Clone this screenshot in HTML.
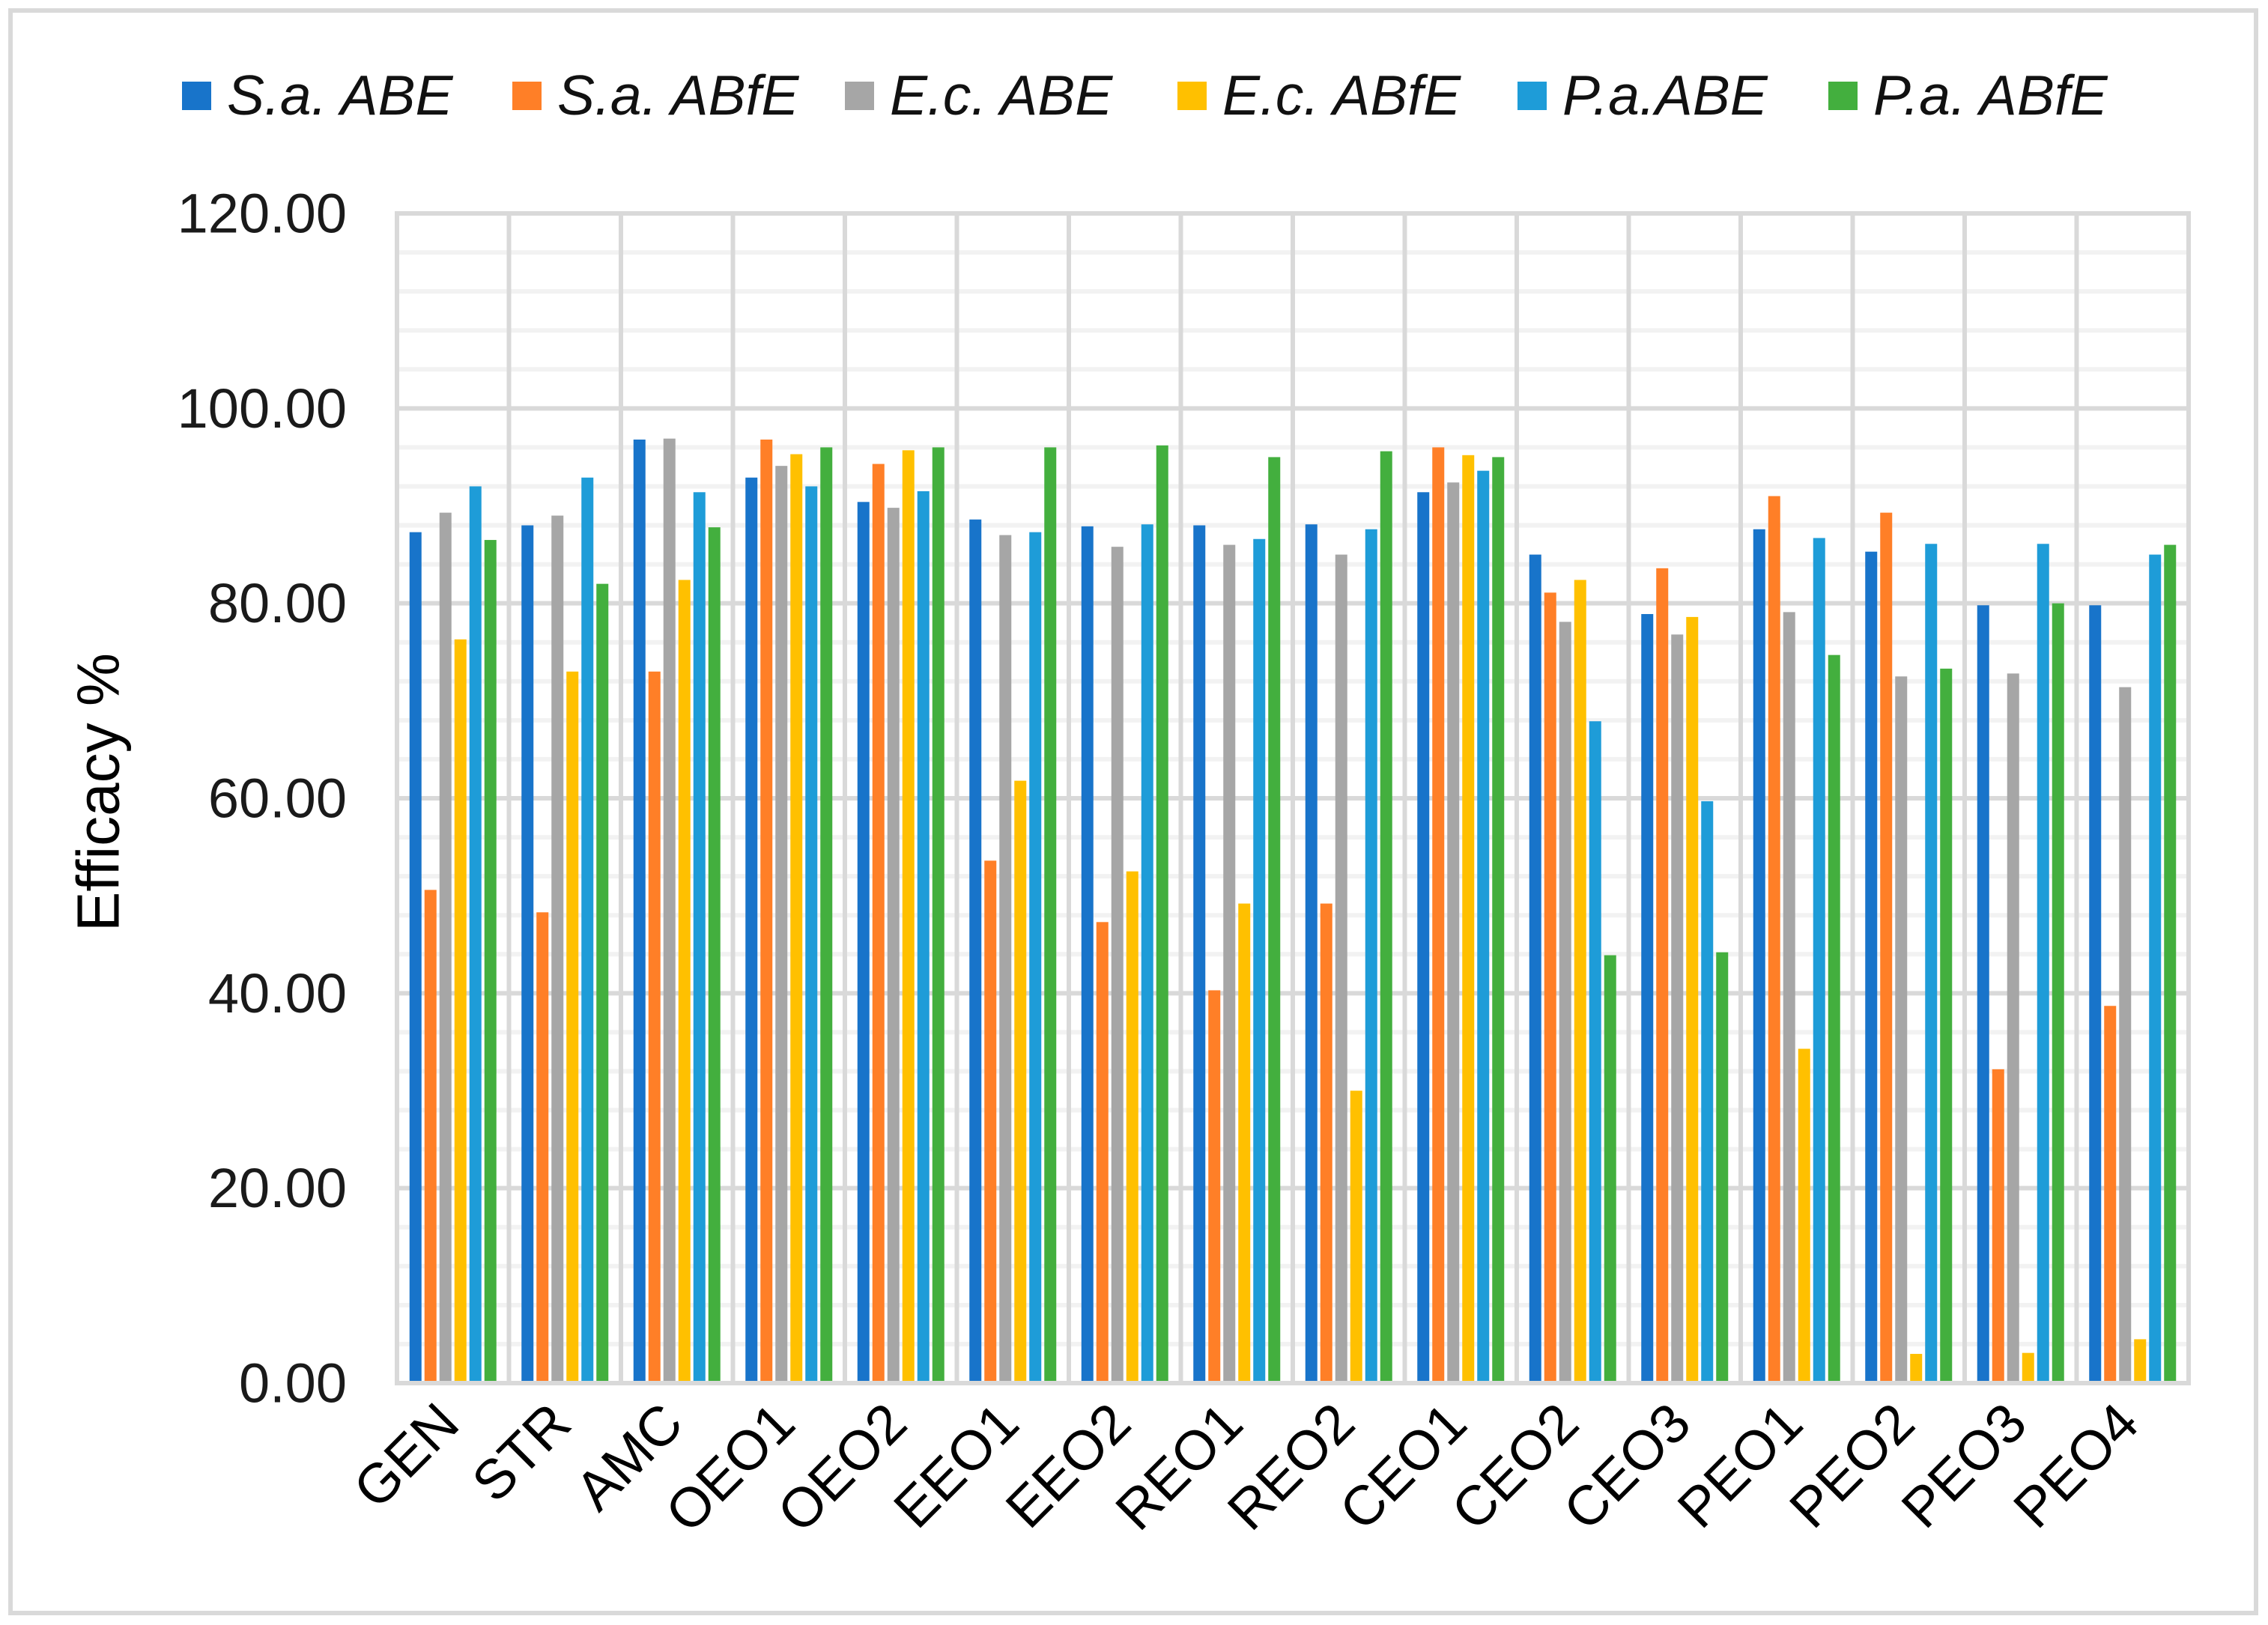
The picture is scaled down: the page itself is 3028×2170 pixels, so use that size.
<!DOCTYPE html>
<html><head><meta charset="utf-8"><style>
html,body{margin:0;padding:0;background:#fff;}
svg{display:block;font-family:"Liberation Sans",Arial,sans-serif;}
</style></head><body>
<svg id="chart" width="3028" height="2170" viewBox="0 0 3028 2170" xmlns="http://www.w3.org/2000/svg">
<rect x="14" y="14" width="2998" height="2140" fill="#fff" stroke="#d9d9d9" stroke-width="6"/>
<g id="grid"></g>
<g id="bars"></g>
<g id="frame"></g>
<g id="yticks"></g>
<g id="xticks"></g>
<g id="legend"></g>
<text x="131" y="1058" font-size="80" fill="#000" text-anchor="middle" dominant-baseline="central" transform="rotate(-90 131 1058)">Efficacy %</text>
</svg>
<script>
const categories = ["GEN","STR","AMC","OEO1","OEO2","EEO1","EEO2","REO1","REO2","CEO1","CEO2","CEO3","PEO1","PEO2","PEO3","PEO4"];
const seriesNames = ["S.a. ABE","S.a. ABfE","E.c. ABE","E.c. ABfE","P.a.ABE","P.a. ABfE"];
const saABE  = [87.3,88.0,96.8,92.9,90.4,88.6,87.9,88.0,88.1,91.4,85.0,78.9,87.6,85.3,79.8,79.8];
const saABfE = [50.6,48.3,73.0,96.8,94.3,53.6,47.3,40.3,49.2,96.0,81.1,83.6,91.0,89.3,32.2,38.7];
const ecABE  = [89.3,89.0,96.9,94.1,89.8,87.0,85.8,86.0,85.0,92.4,78.1,76.8,79.1,72.5,72.8,71.4];
const ecABfE = [76.3,73.0,82.4,95.3,95.7,61.8,52.5,49.2,30.0,95.2,82.4,78.6,34.3,3.0,3.1,4.5];
const paABE  = [92.0,92.9,91.4,92.0,91.5,87.3,88.1,86.6,87.6,93.6,67.9,59.7,86.7,86.1,86.1,85.0];
const paABfE = [86.5,82.0,87.8,96.0,96.0,96.0,96.2,95.0,95.6,95.0,43.9,44.2,74.7,73.3,80.0,86.0];
const yTicks = [0,20,40,60,80,100,120];
const yTickLabels = ["0.00","20.00","40.00","60.00","80.00","100.00","120.00"];

const series = [saABE,saABfE,ecABE,ecABfE,paABE,paABfE];
const colors = ["#1874CA","#FF7F27","#A6A6A6","#FFC000","#1E9CD8","#43AF3E"];
const NS="http://www.w3.org/2000/svg";
const L=530,R=2922,T=285,B=1847,YMAX=120;
const y=v=>B-(v/YMAX)*(B-T);
const catW=(R-L)/categories.length;
const x=i=>L+i*catW;
function mk(tag,attrs,parent){const e=document.createElementNS(NS,tag);for(const k in attrs)e.setAttribute(k,attrs[k]);parent.appendChild(e);return e;}
const grid=document.getElementById('grid');
for(let v=0;v<=YMAX;v+=4){
  if(v%20===0)continue;
  const l=mk('line',{x1:L,x2:R,y1:y(v),y2:y(v),stroke:'#f2f2f2','stroke-width':6},grid);
  
  
}
yTicks.forEach(v=>{
  const l=mk('line',{x1:L,x2:R,y1:y(v),y2:y(v),stroke:'#d9d9d9','stroke-width':6},grid);
  
  
});
for(let i=1;i<categories.length;i++){
  const l=mk('line',{x1:x(i),x2:x(i),y1:T,y2:B,stroke:'#d9d9d9','stroke-width':6},grid);
  
  
}
const bars=document.getElementById('bars');
const bw=16,pitch=20,groupW=pitch*5+bw;
categories.forEach((c,i)=>{
  const cx=x(i)+catW/2;
  series.forEach((s,j)=>{
    const bx=cx-groupW/2+j*pitch;
    const r=mk('rect',{x:bx,y:y(s[i]),width:bw,height:B-y(s[i]),fill:colors[j]},bars);
    
    
  });
});
const frame=document.getElementById('frame');
const fr=mk('rect',{x:L,y:T,width:R-L,height:B-T,fill:'none',stroke:'#d9d9d9','stroke-width':6},frame);


const yt=document.getElementById('yticks');
yTicks.forEach((v,k)=>{
  const t=mk('text',{x:463,y:y(v),'font-size':74,fill:'#1a1a1a','text-anchor':'end','dominant-baseline':'central'},yt);
  t.textContent=yTickLabels[k];
  
  
});
const xt=document.getElementById('xticks');
categories.forEach((c,i)=>{
  const ex=x(i)+catW/2+12, ey=1905;
  const t=mk('text',{x:ex,y:ey,'font-size':74,fill:'#000','text-anchor':'end',transform:`rotate(-45 ${ex} ${ey})`},xt);
  t.textContent=c;
  
  
});
const lg=document.getElementById('legend');
const lgSq=[243,684,1128,1572,2026,2441];
seriesNames.forEach((n,j)=>{
  const g=mk('g',{},lg);
  
  
  const r=mk('rect',{x:lgSq[j],y:109,width:39,height:38,fill:colors[j]},g);
  
  
  const t=mk('text',{x:lgSq[j]+60,y:153,'font-size':75,'font-style':'italic',fill:'#111'},g);
  t.textContent=n;
  
  
});
</script>
</body></html>
